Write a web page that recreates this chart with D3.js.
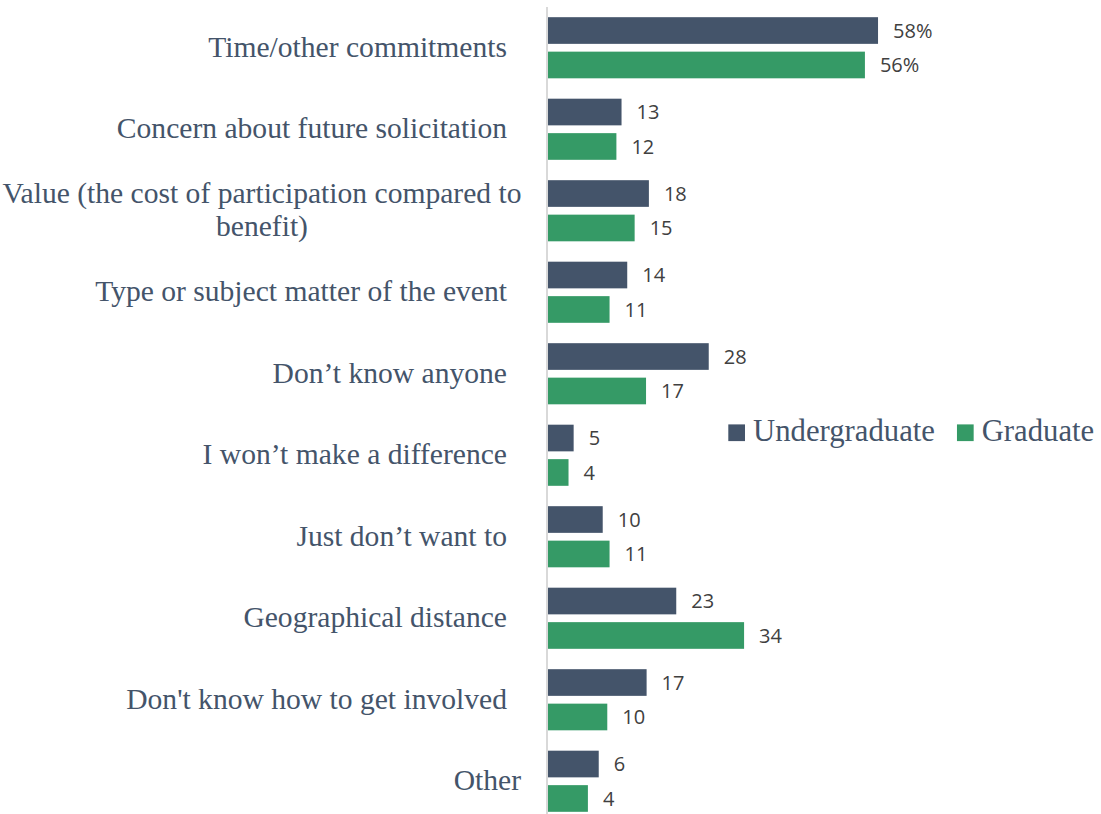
<!DOCTYPE html>
<html>
<head>
<meta charset="utf-8">
<script src="https://cdn.jsdelivr.net/npm/d3@7"></script>
<style>
  html, body { margin: 0; padding: 0; background: #ffffff; }
  svg { display: block; }
</style>
</head>
<body>
<svg id="chart" width="1101" height="814"></svg>
<script>
// ---- data ----
const categories = [
  "Time/other commitments ",
  "Concern about future solicitation ",
  "Value (the cost of participation compared to|benefit)",
  "Type or subject matter of the event ",
  "Don\u2019t know anyone ",
  "I won\u2019t make a difference ",
  "Just don\u2019t want to ",
  "Geographical distance ",
  "Don't know how to get involved ",
  "Other"
];
const seriesNames = ["Undergraduate", "Graduate"];
// bar lengths
const undergradValues = [57.9, 12.9, 17.7, 13.9, 28.2, 4.5, 9.6, 22.5, 17.3, 8.9];
const graduateValues  = [55.6, 12.0, 15.2, 10.8, 17.2, 3.6, 10.8, 34.4, 10.4, 7.0];
// data labels as printed
const undergradLabels = ["58%", "13", "18", "14", "28", "5", "10", "23", "17", "6"];
const graduateLabels  = ["56%", "12", "15", "11", "17", "4", "11", "34", "10", "4"];
const colors = ["#44546A", "#359A66"];

// ---- chart ----
const svg = d3.select("#chart");
const serif = "'Liberation Serif', 'DejaVu Serif', serif";
const textColor = "#44546A";

const x = d3.scaleLinear().domain([0, 60]).range([548, 548 + 60 * 5.7]);
const y = d3.scaleBand().domain(categories).range([7, 822])
  .paddingInner(0.25).paddingOuter(0.125);
const ySub = d3.scaleBand().domain(seriesNames).range([0, y.bandwidth()])
  .paddingInner(0.226).paddingOuter(0);

// measure helper
function measure(str, fs) {
  const t = svg.append("text").attr("font-family", serif).attr("font-size", fs).text(str);
  const w = t.node().getComputedTextLength();
  t.remove();
  return w;
}
const labelFs = 26 * 299 / measure("Time/other commitments", 26);
const legendFs = 26 * 182 / measure("Undergraduate", 26);

// axis line
svg.append("line")
  .attr("x1", 547).attr("x2", 547)
  .attr("y1", 7).attr("y2", 814)
  .attr("stroke", "#d9d9d9").attr("stroke-width", 2);

const rows = categories.map((c, i) => ({
  cat: c,
  vals: [
    { s: seriesNames[0], v: undergradValues[i], lab: undergradLabels[i] },
    { s: seriesNames[1], v: graduateValues[i], lab: graduateLabels[i] }
  ]
}));

const g = svg.selectAll("g.row").data(rows).join("g")
  .attr("class", "row")
  .attr("transform", d => `translate(0,${y(d.cat)})`);

g.selectAll("rect").data(d => d.vals).join("rect")
  .attr("x", x(0))
  .attr("y", d => ySub(d.s))
  .attr("width", d => x(d.v) - x(0))
  .attr("height", ySub.bandwidth())
  .attr("fill", (d, i) => colors[i]);

g.selectAll("text.val").data(d => d.vals).join("text")
  .attr("class", "val")
  .attr("x", d => x(d.v) + 15)
  .attr("y", d => ySub(d.s) + ySub.bandwidth() / 2)
  .attr("dy", "0.36em")
  .attr("font-family", "'Open Sans', 'Liberation Sans', sans-serif")
  .attr("font-size", 20)
  .attr("fill", "#404040")
  .text(d => d.lab);

// category labels
svg.selectAll("text.cat").data(categories).join("text")
  .attr("class", "cat")
  .attr("font-family", serif)
  .attr("font-size", labelFs)
  .attr("fill", textColor)
  .each(function(c) {
    const lines = c.split("|");
    const cy = y(c) + y.bandwidth() / 2;
    const el = d3.select(this);
    const lh = labelFs * 1.1;
    if (lines.length === 1) {
      const trailing = /\s$/.test(lines[0]);
      el.attr("text-anchor", "end").attr("x", trailing ? 507 : 521)
        .attr("y", cy + labelFs * 0.3).text(lines[0].trim());
    } else {
      el.attr("text-anchor", "middle");
      lines.forEach((ln, k) => {
        el.append("tspan")
          .attr("x", 262)
          .attr("y", cy + (k - (lines.length - 1) / 2) * lh + labelFs * 0.3)
          .text(ln);
      });
    }
  });

// legend
const legendY = 432.7;
let lx = 728.3;
seriesNames.forEach((s, i) => {
  svg.append("rect")
    .attr("x", lx).attr("y", legendY - 8.3)
    .attr("width", 16.7).attr("height", 16.7)
    .attr("fill", colors[i]);
  const t = svg.append("text")
    .attr("x", lx + 24.7).attr("y", legendY + 8)
    .attr("font-family", serif)
    .attr("font-size", legendFs)
    .attr("fill", textColor)
    .text(s);
  lx = lx + 24.7 + t.node().getComputedTextLength() + 22;
});
</script>
</body>
</html>
